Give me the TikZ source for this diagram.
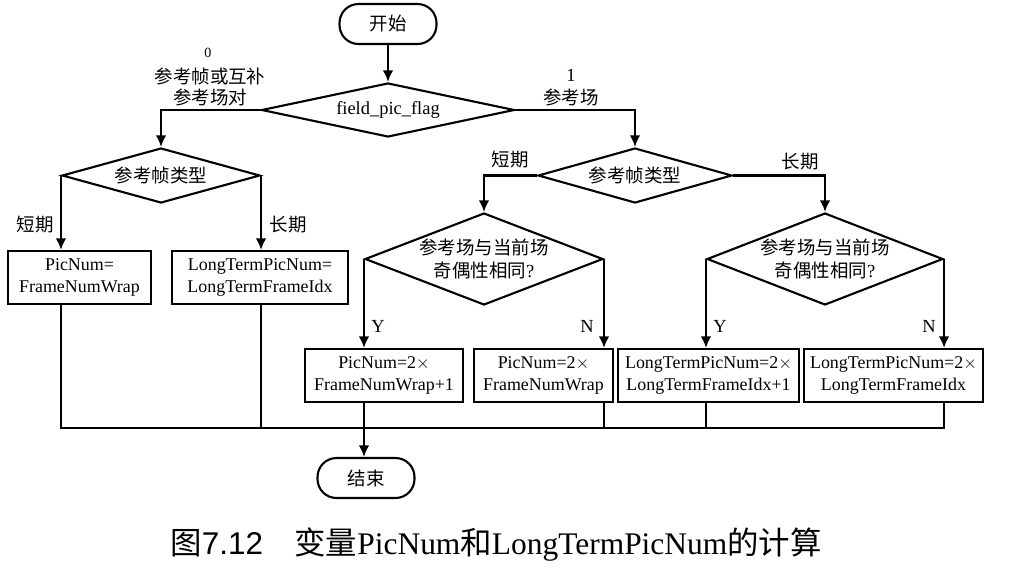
\documentclass[tikz,border=0pt]{standalone}
\usepackage{fontspec}
\setmainfont{Liberation Serif}
\newfontfamily\cjk{Noto Sans CJK SC}
\newfontfamily\capsans{Liberation Sans}
\usepackage{tikz}
\usetikzlibrary{arrows.meta,shapes,positioning}

\begin{document}
\begin{tikzpicture}[x=0.02cm,y=-0.02cm,line width=1.2pt,>={Latex[length=2.3mm,width=2.1mm]},
  every node/.style={font=\fontsize{10.5}{12.5}\selectfont},
  term/.style={draw,rounded corners=0.38cm,minimum width=1.94cm,minimum height=0.8cm,inner sep=0pt},
  dec/.style={draw,diamond,inner sep=0pt},
  calc/.style={draw,align=center,minimum height=1.06cm,inner sep=0pt,font=\fontsize{10.2}{12.5}\selectfont},
  lbl/.style={align=center,inner sep=0pt}]
\useasboundingbox (0,0) rectangle (1030,586);
%start and field_pic_flag test
\node[term] (start) at (388,24) {\cjk 开始};
\node[dec,minimum width=5.06cm,minimum height=1.08cm] (flag) at (388,110) {};
\node[lbl] (flagtxt) at (flag) {field\_pic\_flag};
\draw[->] (start) -- (flag);
%frame branch
\node[dec,minimum width=3.96cm,minimum height=1.1cm] (type1) at (161,175.5) {};
\node[lbl] (type1txt) at (type1) {\cjk 参考帧类型};
\draw[->] (flag.west) -| (type1.north);
\node[lbl,font=\fontsize{8}{9}\selectfont] (zero) at (208,53) {0};
\node[lbl,font=\fontsize{10.5}{11.5}\selectfont] (frmlbl) at (210,87) {\cjk 参考帧或互补\\\cjk 参考场对};
\node[calc,minimum width=2.86cm] (boxA) at (79.5,277.5) {PicNum=\\FrameNumWrap};
\node[calc,minimum width=3.52cm] (boxB) at (260,277.5) {LongTermPicNum=\\LongTermFrameIdx};
\draw[->] (type1.west) -- (type1.west |- boxA.north);
\draw[->] (type1.east) -- (type1.east |- boxB.north);
\node[lbl] (short1) at (35,225) {\cjk 短期};
\node[lbl] (long1) at (288,225) {\cjk 长期};
%field branch
\node[dec,minimum width=3.88cm,minimum height=1.1cm] (type2) at (635,175.5) {};
\node[lbl] (type2txt) at (type2) {\cjk 参考帧类型};
\draw[->] (flag.east) -| (type2.north);
\node[lbl] (one) at (571,75) {1};
\node[lbl] (fldlbl) at (571,97) {\cjk 参考场};
\node[dec,minimum width=4.76cm,minimum height=1.84cm] (par1) at (484,259) {};
\node[lbl,font=\fontsize{10.5}{13.5}\selectfont] (par1txt) at (par1) {\cjk 参考场与当前场\\{\cjk 奇偶性相同}?};
\node[dec,minimum width=4.72cm,minimum height=1.84cm] (par2) at (825,259) {};
\node[lbl,font=\fontsize{10.5}{13.5}\selectfont] (par2txt) at (par2) {\cjk 参考场与当前场\\{\cjk 奇偶性相同}?};
\draw[->] (type2.west) -| (par1.north);
\draw[->] (type2.east) -| (par2.north);
\node[lbl] (short2) at (510,160) {\cjk 短期};
\node[lbl] (long2) at (800,162) {\cjk 长期};
%results
\node[calc,minimum width=3.16cm] (boxC) at (384,375.5) {PicNum=2$\times$\\FrameNumWrap+1};
\node[calc,minimum width=2.78cm] (boxD) at (543.5,375.5) {PicNum=2$\times$\\FrameNumWrap};
\node[calc,minimum width=3.62cm] (boxE) at (708.5,375.5) {LongTermPicNum=2$\times$\\LongTermFrameIdx+1};
\node[calc,minimum width=3.58cm] (boxF) at (893.5,375.5) {LongTermPicNum=2$\times$\\LongTermFrameIdx};
\draw[->] (par1.west) -- (par1.west |- boxC.north);
\draw[->] (par1.east) -- (par1.east |- boxD.north);
\draw[->] (par2.west) -- (par2.west |- boxE.north);
\draw[->] (par2.east) -- (par2.east |- boxF.north);
\node[lbl] (y1) at (378,326) {Y};
\node[lbl] (n1) at (587,326) {N};
\node[lbl] (y2) at (720,326) {Y};
\node[lbl] (n2) at (929,326) {N};
%merge and end
\node[term] (finish) at (366,478) {\cjk 结束};
\coordinate (join) at (366,428);
\draw (type1.west |- boxA.south) -- (type1.west |- join) -- (par2.east |- join) -- (par2.east |- boxF.south);
\draw (type1.east |- boxB.south) -- (type1.east |- join);
\draw (par1.east |- boxD.south) -- (par1.east |- join);
\draw (par2.west |- boxE.south) -- (par2.west |- join);
\draw[->] (par1.west |- boxC.south) -- (par1.west |- finish.north);
%caption
\node[lbl,font=\fontsize{17.9}{20}\selectfont] (cap) at (496,545) {{\cjk 图}{\capsans 7.12}\hspace{1em}{\cjk 变量}PicNum{\cjk 和}LongTermPicNum{\cjk 的计算}};
\end{tikzpicture}
\end{document}
